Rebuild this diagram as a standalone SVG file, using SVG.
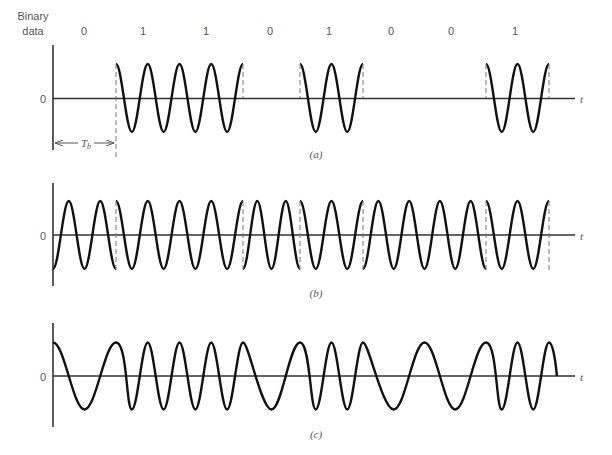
<svg xmlns="http://www.w3.org/2000/svg" width="612" height="455" viewBox="0 0 612 455">
<style>
.ax{stroke:#333;stroke-width:1.6;fill:none}
.w{stroke:#111;stroke-width:2.4;fill:none}
.d{stroke:#777;stroke-width:1;stroke-dasharray:5,3;fill:none}
.s{font-family:"Liberation Sans",Arial,sans-serif;font-size:11px;fill:#555}
.i{font-family:"Liberation Serif","Times New Roman",serif;font-style:italic;font-size:11px;fill:#555}
</style>
<defs>
<marker id="ah" markerWidth="8" markerHeight="6" refX="8" refY="3" orient="auto-start-reverse" markerUnits="userSpaceOnUse"><path d="M0,0 L8,3 L0,6" fill="none" stroke="#555" stroke-width="1"/></marker>
</defs>
<g id="labels">
<text class="s" x="33" y="20" text-anchor="middle">Binary</text>
<text class="s" x="33" y="35" text-anchor="middle">data</text>
<text class="s" x="84" y="35" text-anchor="middle">0</text>
<text class="s" x="143" y="35" text-anchor="middle">1</text>
<text class="s" x="206" y="35" text-anchor="middle">1</text>
<text class="s" x="270" y="35" text-anchor="middle">0</text>
<text class="s" x="329" y="35" text-anchor="middle">1</text>
<text class="s" x="391" y="35" text-anchor="middle">0</text>
<text class="s" x="451" y="35" text-anchor="middle">0</text>
<text class="s" x="515" y="35" text-anchor="middle">1</text>
</g>
<g id="panel-a">
<path class="ax" d="M53,45 V150 M53,98.5 H575"/>
<text class="s" x="46" y="103" text-anchor="end">0</text>
<text class="i" x="580" y="103">t</text>
<path class="w" d="M116,64 c5.78,0 10.09,68 15.875,68 s10.09,-68 15.875,-68 s10.09,68 15.875,68 s10.09,-68 15.875,-68 s10.09,68 15.875,68 s10.09,-68 15.875,-68 s10.09,68 15.875,68 s10.09,-68 15.875,-68"/>
<path class="w" d="M300,64 c5.74,0 10.01,68 15.75,68 s10.01,-68 15.75,-68 s10.01,68 15.75,68 s10.01,-68 15.75,-68"/>
<path class="w" d="M486,64 c5.74,0 10.01,68 15.75,68 s10.01,-68 15.75,-68 s10.01,68 15.75,68 s10.01,-68 15.75,-68"/>
<path class="d" d="M116,64 V160 M243,64 V98 M300,64 V98 M363,64 V98 M486,64 V98 M549,64 V98"/>
<path d="M55,143 H78 M94,143 H114" stroke="#555" stroke-width="1" marker-start="url(#ah)" marker-end="url(#ah)"/>
<text class="i" x="86" y="147" text-anchor="middle">T<tspan font-size="8" dy="2">b</tspan></text>
<text class="i" x="316" y="158" text-anchor="middle">(a)</text>
</g>
<g id="panel-b">
<path class="ax" d="M53,183 V286 M53,235 H575"/>
<text class="s" x="46" y="240" text-anchor="end">0</text>
<text class="i" x="580" y="240">t</text>
<path class="w" d="M53,269 c5.74,0 10.01,-68 15.75,-68 s10.01,68 15.75,68 s10.01,-68 15.75,-68 s10.01,68 15.75,68"/>
<path class="w" d="M116,201 c5.78,0 10.09,68 15.875,68 s10.09,-68 15.875,-68 s10.09,68 15.875,68 s10.09,-68 15.875,-68 s10.09,68 15.875,68 s10.09,-68 15.875,-68 s10.09,68 15.875,68 s10.09,-68 15.875,-68"/>
<path class="w" d="M243,269 c5.19,0 9.06,-68 14.25,-68 s9.06,68 14.25,68 s9.06,-68 14.25,-68 s9.06,68 14.25,68"/>
<path class="w" d="M300,201 c5.74,0 10.01,68 15.75,68 s10.01,-68 15.75,-68 s10.01,68 15.75,68 s10.01,-68 15.75,-68"/>
<path class="w" d="M363,269 c5.6,0 9.78,-68 15.375,-68 s9.78,68 15.375,68 s9.78,-68 15.375,-68 s9.78,68 15.375,68 s9.78,-68 15.375,-68 s9.78,68 15.375,68 s9.78,-68 15.375,-68 s9.78,68 15.375,68"/>
<path class="w" d="M486,201 c5.74,0 10.01,68 15.75,68 s10.01,-68 15.75,-68 s10.01,68 15.75,68 s10.01,-68 15.75,-68"/>
<path class="d" d="M116,201 V270 M243,201 V270 M300,201 V270 M363,201 V270 M486,201 V270 M549,201 V273"/>
<text class="i" x="316" y="297" text-anchor="middle">(b)</text>
</g>
<g id="panel-c">
<path class="ax" d="M53,323 V427 M53,376 H575"/>
<text class="s" x="46" y="381" text-anchor="end">0</text>
<text class="i" x="580" y="381">t</text>
<path class="w" d="M53,342.5 c11.47,0 20.03,67 31.5,67 s20.03,-67 31.5,-67 s10.09,67 15.875,67 s10.09,-67 15.875,-67 s10.09,67 15.875,67 s10.09,-67 15.875,-67 s10.09,67 15.875,67 s10.09,-67 15.875,-67 s10.09,67 15.875,67 s10.09,-67 15.875,-67 s18.12,67 28.5,67 s18.12,-67 28.5,-67 s10.01,67 15.75,67 s10.01,-67 15.75,-67 s10.01,67 15.75,67 s10.01,-67 15.75,-67 s19.55,67 30.75,67 s19.55,-67 30.75,-67 s19.55,67 30.75,67 s19.55,-67 30.75,-67 s10.01,67 15.75,67 s10.01,-67 15.75,-67 s10.01,67 15.75,67 s10.01,-67 15.75,-67 c3.5,0 6.3,16 7.9,33.5"/>
<text class="i" x="316" y="438" text-anchor="middle">(c)</text>
</g>
</svg>
